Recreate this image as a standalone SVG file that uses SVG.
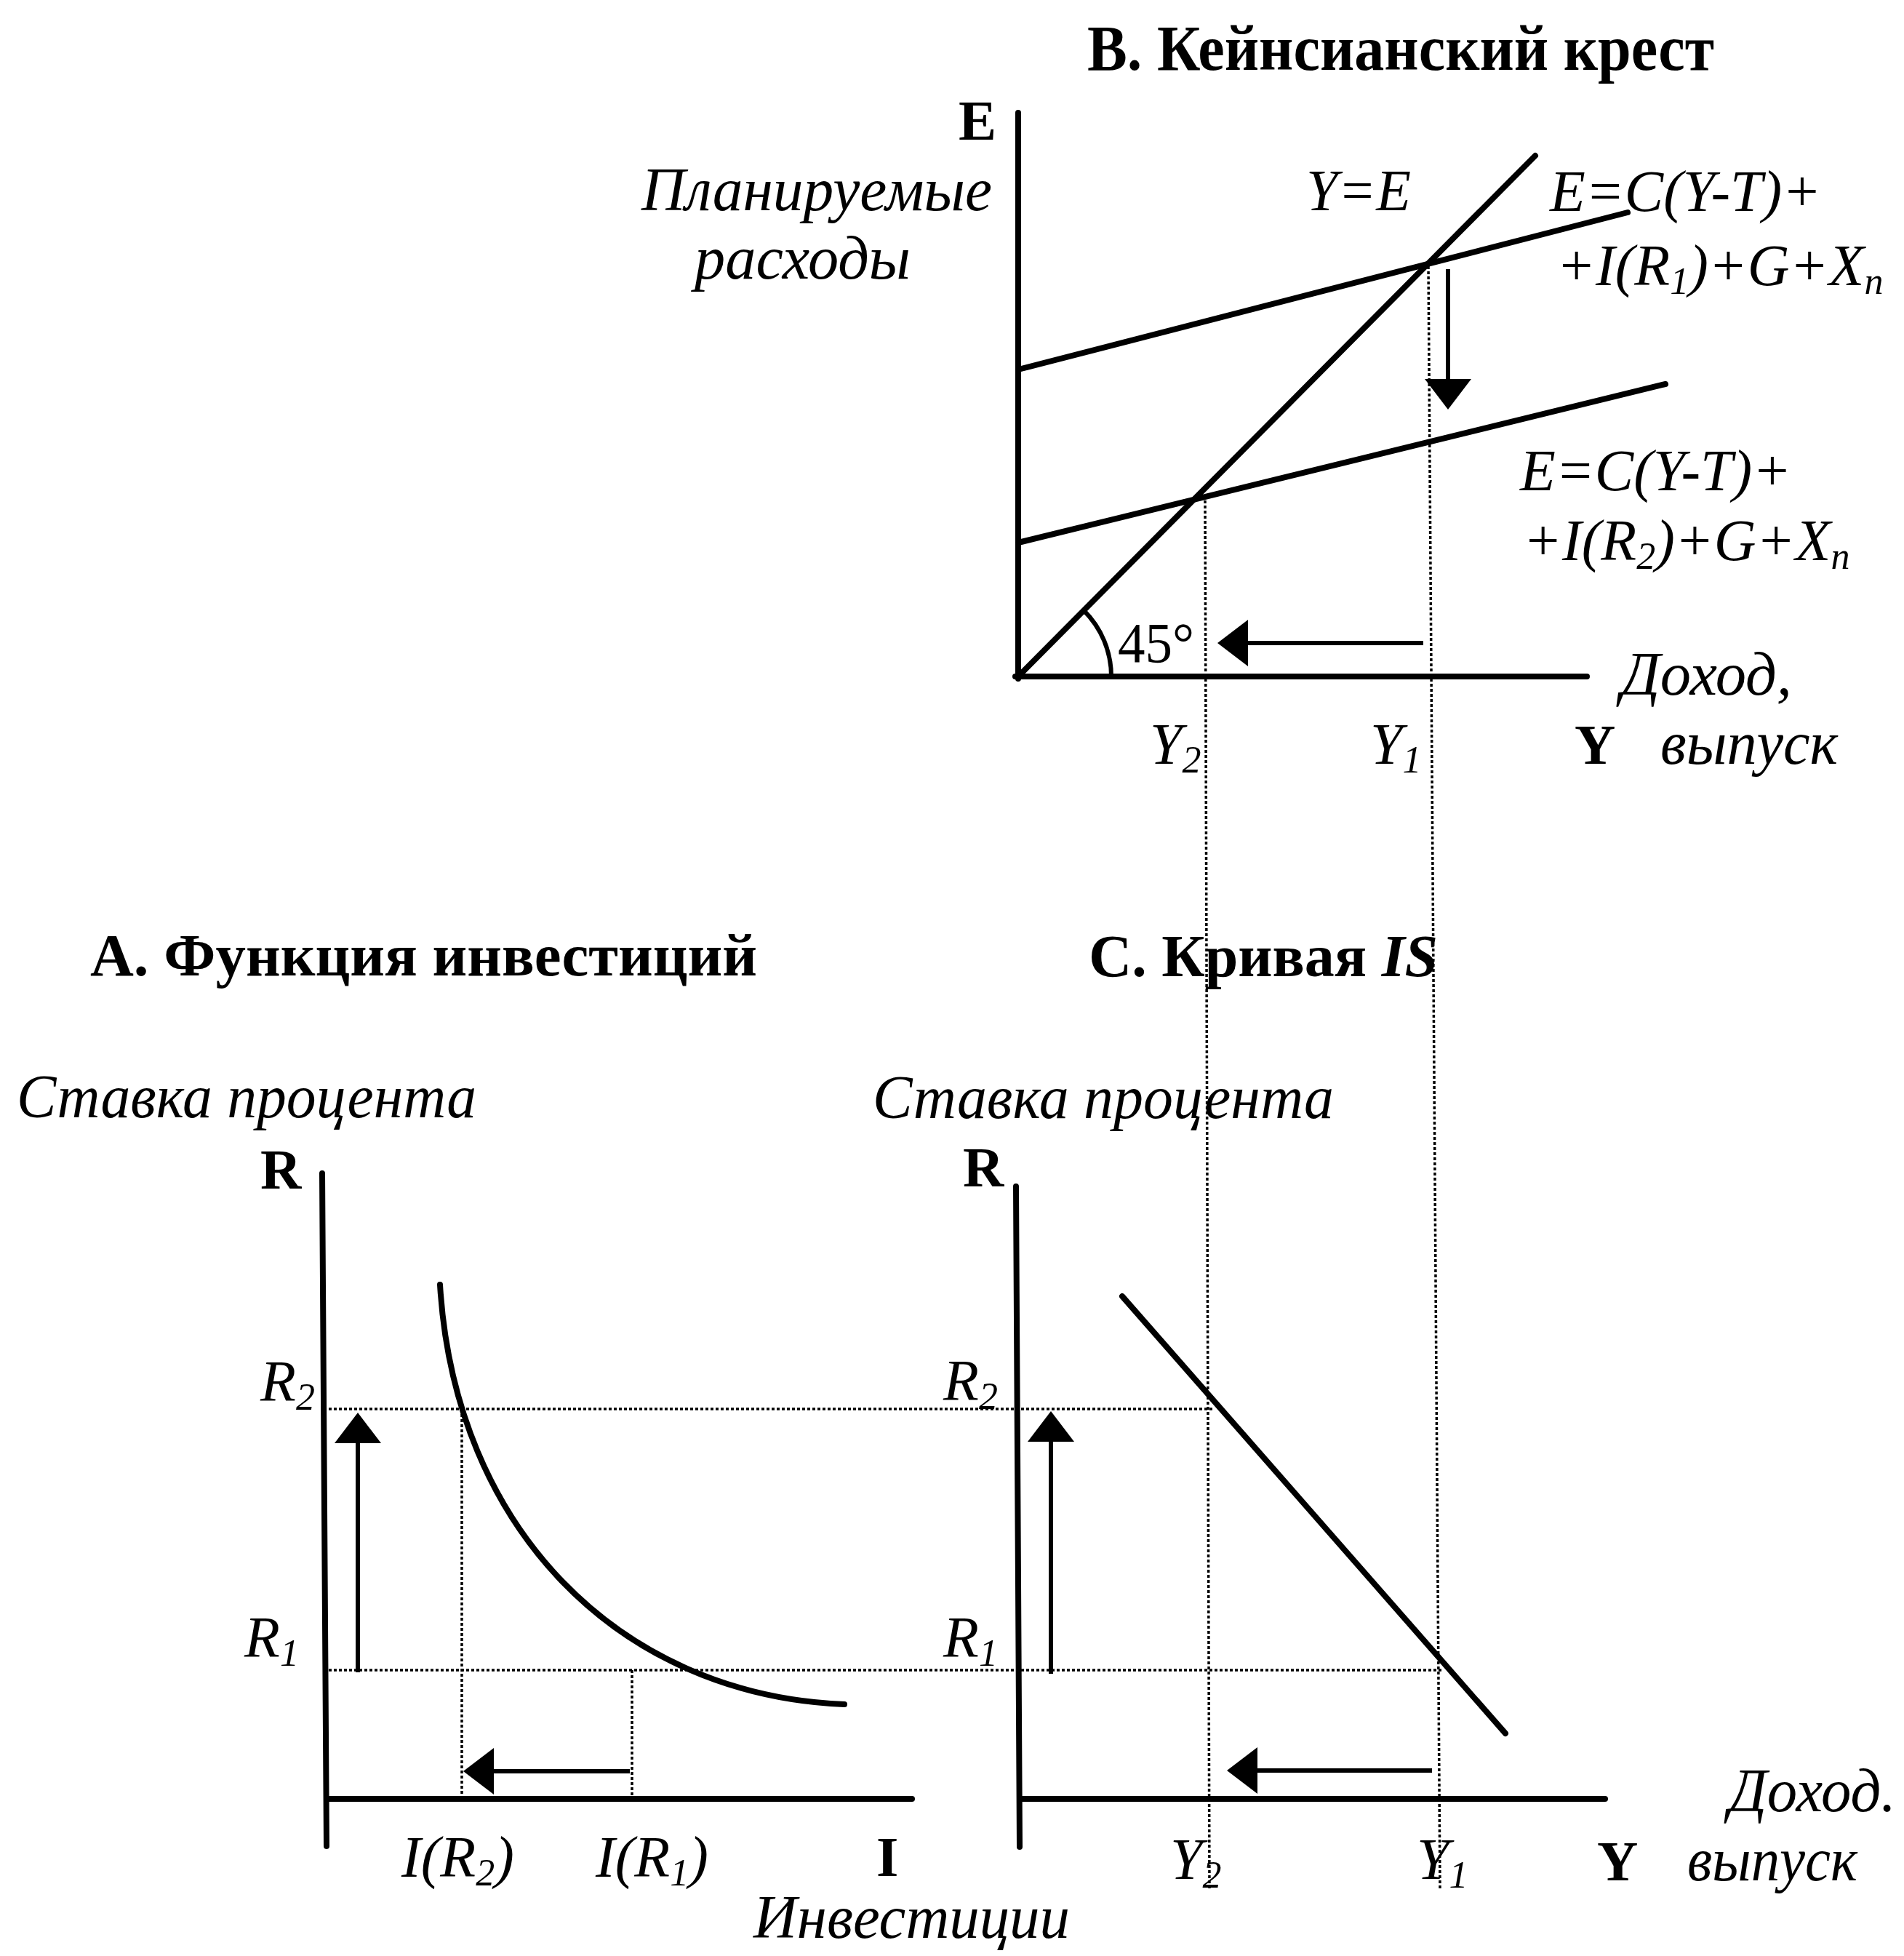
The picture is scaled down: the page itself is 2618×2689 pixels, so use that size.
<svg xmlns="http://www.w3.org/2000/svg" width="2618" height="2689" viewBox="0 0 2618 2689">
<defs>
<style>
.ax{stroke:#000;stroke-width:8;fill:none;stroke-linecap:round}
.cv{stroke:#000;stroke-width:8;fill:none;stroke-linecap:round}
.thin{stroke:#000;stroke-width:6;fill:none}
.dot{stroke:#000;stroke-width:3.5;fill:none;stroke-dasharray:4 3}
.sh{stroke:#000;stroke-width:6;fill:none;marker-end:url(#ah)}
.t{font-family:"Liberation Serif","Times New Roman",serif;fill:#000}
.ttl{font-weight:bold}
.bl{font-weight:bold;font-size:78px}
.it{font-style:italic}
.lab{font-style:italic;font-size:84px}
.fm{font-style:italic;font-size:80px}
.sub{font-size:52px}
</style>
<marker id="ah" markerUnits="userSpaceOnUse" markerWidth="44" markerHeight="66" refX="0" refY="32" orient="auto" overflow="visible">
<path d="M0,0 L42,32 L0,64 Z" fill="#000"/>
</marker>
</defs>
<rect width="2618" height="2689" fill="#fff"/>

<g id="guides">
<line class="dot" x1="1657" y1="688" x2="1663" y2="2596"/>
<line class="dot" x1="1964" y1="366" x2="1980" y2="2596"/>
<line class="dot" x1="452" y1="1937" x2="1668" y2="1937"/>
<line class="dot" x1="452" y1="2296" x2="1982" y2="2296"/>
<line class="dot" x1="635" y1="1937" x2="635" y2="2473"/>
<line class="dot" x1="869" y1="2296" x2="869" y2="2473"/>
</g>

<g id="panel-b">
<text class="t ttl" x="1495" y="96" font-size="88" textLength="862" lengthAdjust="spacingAndGlyphs">B. Кейнсианский крест</text>
<line class="ax" x1="1400" y1="155" x2="1400" y2="933"/>
<line class="ax" x1="1396" y1="930" x2="2182" y2="930"/>
<text class="t bl" x="1318" y="192">E</text>
<text class="t lab" x="882" y="289" textLength="482" lengthAdjust="spacingAndGlyphs">Планируемые</text>
<text class="t lab" x="955" y="383" textLength="297" lengthAdjust="spacingAndGlyphs">расходы</text>
<line class="cv" x1="1400" y1="930" x2="2111" y2="214" stroke-width="7"/>
<line class="cv" x1="1400" y1="508" x2="2238" y2="292" stroke-width="9"/>
<line class="cv" x1="1400" y1="746" x2="2290" y2="528" stroke-width="9"/>
<path class="thin" d="M1490,839 A128,128 0 0 1 1528,930"/>
<text class="t" x="1537" y="910" font-size="78" textLength="105" lengthAdjust="spacingAndGlyphs">45°</text>
<text class="t fm" x="1796" y="289" textLength="144" lengthAdjust="spacingAndGlyphs">Y=E</text>
<text class="t fm" x="2131" y="290">E=C(Y-T)+</text>
<text class="t fm" x="2140" y="392">+I(R<tspan class="sub" dy="12">1</tspan><tspan dy="-12">)+G+X</tspan><tspan class="sub" dy="12">n</tspan></text>
<text class="t fm" x="2090" y="674">E=C(Y-T)+</text>
<text class="t fm" x="2094" y="770">+I(R<tspan class="sub" dy="12">2</tspan><tspan dy="-12">)+G+X</tspan><tspan class="sub" dy="12">n</tspan></text>
<text class="t lab" x="2229" y="955" font-size="80" textLength="235" lengthAdjust="spacingAndGlyphs">Доход,</text>
<text class="t fm" x="1581" y="1050" font-size="76">Y<tspan class="sub" dy="12">2</tspan></text>
<text class="t fm" x="1884" y="1050" font-size="76">Y<tspan class="sub" dy="12">1</tspan></text>
<text class="t bl" x="2165" y="1050">Y</text>
<text class="t lab" x="2283" y="1050" font-size="78" textLength="244" lengthAdjust="spacingAndGlyphs">выпуск</text>
</g>

<g id="panel-a">
<text class="t ttl" x="124" y="1341" font-size="82" textLength="917" lengthAdjust="spacingAndGlyphs">A. Функция инвестиций</text>
<text class="t lab" x="23" y="1536" textLength="632" lengthAdjust="spacingAndGlyphs">Ставка процента</text>
<text class="t bl" x="358" y="1634">R</text>
<line class="ax" x1="443" y1="1613" x2="449" y2="2538"/>
<line class="ax" x1="452" y1="2473" x2="1254" y2="2473"/>
<path class="cv" d="M605,1766 C625,2100 850,2330 1161,2343"/>
<text class="t fm" x="358" y="1926" font-size="74">R<tspan class="sub" dy="12">2</tspan></text>
<text class="t fm" x="336" y="2278" font-size="74">R<tspan class="sub" dy="12">1</tspan></text>
<text class="t fm" x="552" y="2580">I(R<tspan class="sub" dy="12">2</tspan><tspan dy="-12">)</tspan></text>
<text class="t fm" x="819" y="2580">I(R<tspan class="sub" dy="12">1</tspan><tspan dy="-12">)</tspan></text>
<text class="t bl" x="1205" y="2579" font-size="80">I</text>
<text class="t lab" x="1036" y="2664" font-size="76" textLength="435" lengthAdjust="spacingAndGlyphs">Инвестиции</text>
</g>

<g id="panel-c">
<text class="t ttl" x="1497" y="1342" font-size="82">C. Кривая <tspan class="it">IS</tspan></text>
<text class="t lab" x="1200" y="1537" textLength="634" lengthAdjust="spacingAndGlyphs">Ставка процента</text>
<text class="t bl" x="1324" y="1631">R</text>
<line class="ax" x1="1397" y1="1631" x2="1402" y2="2539"/>
<line class="ax" x1="1405" y1="2473" x2="2207" y2="2473"/>
<line class="cv" x1="1543" y1="1782" x2="2070" y2="2383"/>
<text class="t fm" x="1297" y="1925" font-size="74">R<tspan class="sub" dy="12">2</tspan></text>
<text class="t fm" x="1297" y="2278" font-size="74">R<tspan class="sub" dy="12">1</tspan></text>
<text class="t lab" x="2377" y="2490" font-size="80" textLength="230" lengthAdjust="spacingAndGlyphs">Доход.</text>
<text class="t fm" x="1609" y="2583" font-size="76">Y<tspan class="sub" dy="12">2</tspan></text>
<text class="t fm" x="1948" y="2583" font-size="76">Y<tspan class="sub" dy="12">1</tspan></text>
<text class="t bl" x="2196" y="2585">Y</text>
<text class="t lab" x="2320" y="2585" font-size="78" textLength="234" lengthAdjust="spacingAndGlyphs">выпуск</text>
</g>

<g id="arrows">
<line class="sh" x1="1991" y1="370" x2="1991" y2="521"/>
<line class="sh" x1="1957" y1="884" x2="1716" y2="884"/>
<line class="sh" x1="866" y1="2435" x2="679" y2="2435"/>
<line class="sh" x1="492" y1="2299" x2="492" y2="1984"/>
<line class="sh" x1="1445" y1="2301" x2="1445" y2="1982"/>
<line class="sh" x1="1969" y1="2434" x2="1729" y2="2434"/>
</g>
</svg>
